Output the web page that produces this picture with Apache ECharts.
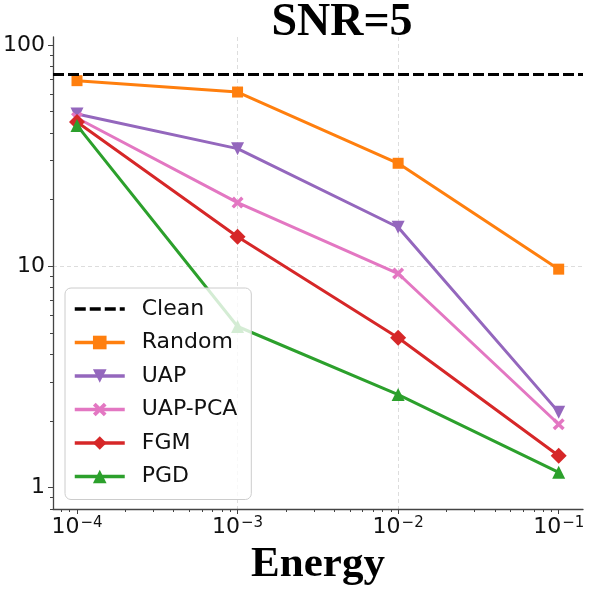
<!DOCTYPE html>
<html>
<head>
<meta charset="utf-8">
<script src="https://cdn.jsdelivr.net/npm/echarts@6/dist/echarts.min.js"></script>
<style>
  html, body { margin: 0; padding: 0; background: #fff; }
  #main { width: 598px; height: 592px; }
</style>
</head>
<body>
<div id="main"></div>
<script>
  var energy = [1e-4, 1e-3, 1e-2, 1e-1];
  var cleanAcc = 74;
  var randomAcc = [69, 61.3, 29.2, 9.7];
  var uapAcc = [48.8, 34, 15, 2.19];
  var uapPcaAcc = [46.8, 19.4, 9.27, 1.93];
  var fgmAcc = [44.9, 13.6, 4.75, 1.39];
  var pgdAcc = [43.3, 5.34, 2.63, 1.17];

  var xMajor = [1e-4, 1e-3, 1e-2, 1e-1];
  var yMajor = [1, 10, 100];
  var xMin = Math.pow(10, -4.1495), xMax = Math.pow(10, -0.8486);
  var yMin = 0.799, yMax = 108.7;

  // minor ticks 2..9 of every decade inside the range
  function minorTicks(lo, hi) {
    var out = [];
    for (var e = Math.floor(Math.log10(lo)); e <= Math.ceil(Math.log10(hi)); e++) {
      for (var k = 2; k <= 9; k++) {
        var v = k * Math.pow(10, e);
        if (v > lo && v < hi) out.push(v);
      }
    }
    return out;
  }

  function pairs(ys) {
    return energy.map(function(x, i) { return [x, ys[i]]; });
  }

  var font = 'DejaVu Sans';
  var axisColor = '#444';
  var xSymbol = 'path://M0,2 L2,0 L5,3 L8,0 L10,2 L7,5 L10,8 L8,10 L5,7 L2,10 L0,8 L3,5 Z';

  var myChart = echarts.init(document.getElementById('main'), null, {renderer: 'canvas'});

  function line(name, data, color, symbol, size, rotate) {
    return {
      name: name,
      type: 'line',
      xAxisIndex: 0,
      yAxisIndex: 0,
      data: pairs(data),
      symbol: symbol,
      symbolSize: size,
      symbolRotate: rotate || 0,
      showAllSymbol: true,
      lineStyle: {color: color, width: 3},
      itemStyle: {color: color},
      emphasis: {disabled: true}
    };
  }

  var option = {
    animation: false,
    title: {
      text: 'SNR=5',
      left: 337,
      textAlign: 'center',
      top: -5,
      textStyle: {fontFamily: 'Liberation Serif', fontWeight: 'bold', fontSize: 46, color: '#000'}
    },
    grid: {left: 53, right: 15, top: 37, bottom: 83},
    legend: {
      orient: 'vertical',
      left: 65,
      top: 288,
      padding: [10, 14, 12, 8],
      itemWidth: 50,
      itemHeight: 17,
      itemGap: 11.5,
      backgroundColor: 'rgba(255,255,255,0.8)',
      borderColor: '#ccc',
      borderWidth: 1,
      borderRadius: 6,
      lineStyle: {width: 3.5},
      textStyle: {fontFamily: font, fontSize: 22, color: '#111', lineHeight: 22, padding: [0, 0, 0, 12]},
      data: [
        {name: 'Clean', itemStyle: {opacity: 0}},
        'Random', 'UAP', 'UAP-PCA', 'FGM', 'PGD'
      ]
    },
    xAxis: [{
      type: 'log',
      logBase: 10,
      min: xMin,
      max: xMax,
      name: 'Energy',
      nameLocation: 'middle',
      nameGap: 28,
      nameTextStyle: {fontFamily: 'Liberation Serif', fontWeight: 'bold', fontSize: 43, color: '#000'},
      axisLine: {show: true, lineStyle: {color: axisColor, width: 1.3}},
      axisTick: {show: true, customValues: xMajor, length: 5, lineStyle: {color: axisColor}},
      axisLabel: {
        customValues: xMajor,
        margin: 7,
        formatter: function(v) {
          return '{b|10}{s|−' + Math.round(-Math.log10(v)) + '}';
        },
        rich: {
          b: {fontFamily: font, fontSize: 22, color: '#111'},
          s: {fontFamily: font, fontSize: 15, color: '#111', verticalAlign: 'top', padding: [0, 0, 0, 1]}
        }
      },
      splitLine: {show: true, showMinLine: false, showMaxLine: false, lineStyle: {color: '#ddd', type: [4, 3]}}
    }, {
      type: 'log',
      logBase: 10,
      min: xMin,
      max: xMax,
      position: 'bottom',
      axisLine: {show: false},
      axisTick: {show: true, customValues: minorTicks(xMin, xMax), length: 3, lineStyle: {color: axisColor}},
      axisLabel: {show: false},
      splitLine: {show: false}
    }],
    yAxis: [{
      type: 'log',
      logBase: 10,
      min: yMin,
      max: yMax,
      axisLine: {show: true, lineStyle: {color: axisColor, width: 1.3}},
      axisTick: {show: true, customValues: yMajor, length: 5, lineStyle: {color: axisColor}},
      axisLabel: {
        customValues: yMajor,
        margin: 8,
        fontFamily: font,
        fontSize: 22,
        color: '#111',
        formatter: function(v) { return String(Math.round(v)); }
      },
      splitLine: {show: true, showMinLine: false, showMaxLine: false, lineStyle: {color: '#ddd', type: [4, 3]}}
    }, {
      type: 'log',
      logBase: 10,
      min: yMin,
      max: yMax,
      position: 'left',
      axisLine: {show: false},
      axisTick: {show: true, customValues: minorTicks(yMin, yMax), length: 3, lineStyle: {color: axisColor}},
      axisLabel: {show: false},
      splitLine: {show: false}
    }],
    series: [
      {
        name: 'Clean',
        type: 'line',
        data: [],
        symbol: 'none',
        lineStyle: {color: '#000', width: 3, type: [11, 4]},
        itemStyle: {color: '#000'},
        markLine: {
          silent: true,
          symbol: 'none',
          label: {show: false},
          lineStyle: {color: '#000', width: 3, type: [11, 4]},
          data: [{yAxis: cleanAcc}]
        }
      },
      line('Random', randomAcc, '#ff7f0e', 'rect', 11),
      line('UAP', uapAcc, '#9467bd', 'triangle', 13, 180),
      line('UAP-PCA', uapPcaAcc, '#e377c2', xSymbol, 12),
      line('FGM', fgmAcc, '#d62728', 'diamond', 16),
      line('PGD', pgdAcc, '#2ca02c', 'triangle', 13)
    ]
  };

  myChart.setOption(option);
</script>
</body>
</html>
